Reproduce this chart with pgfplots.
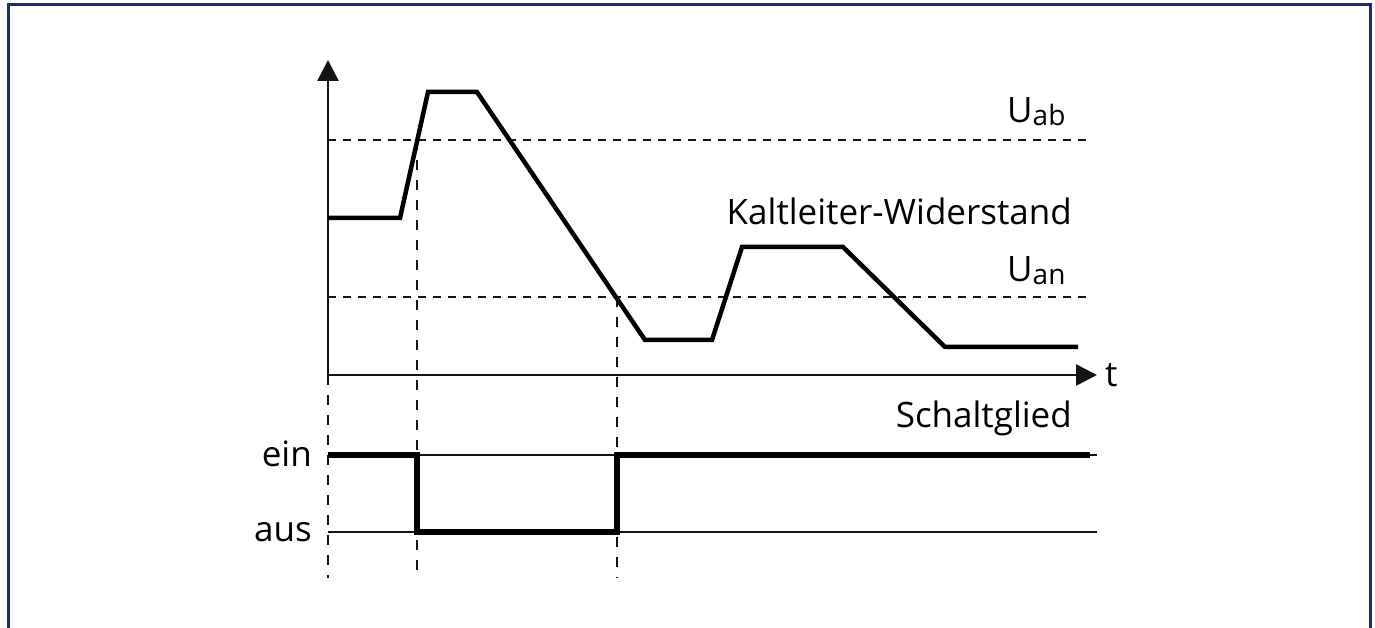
\documentclass[border=0pt]{standalone}
\usepackage{pgfplots}
\pgfplotsset{compat=1.18}
\usepackage{fontspec}
\setmainfont{Open Sans}
\usetikzlibrary{arrows.meta}
\definecolor{frameblue}{RGB}{22,46,122}
\definecolor{ink}{RGB}{20,20,20}
\begin{document}
\begin{tikzpicture}
\begin{axis}[width=1375bp,height=628bp,scale only axis,
  xmin=0,xmax=1375,ymin=0,ymax=628,axis lines=none,clip=false,no markers]
\coordinate (BL) at (axis cs:0,0);
\coordinate (TR) at (axis cs:1375,628);
% frame
\draw[frameblue,line width=3bp] (axis cs:8,0) -- (axis cs:8,623) -- (axis cs:1370,623) -- (axis cs:1370,0);
% dashed reference lines
\addplot[ink,line width=1.8bp,dash pattern=on 8bp off 7bp] coordinates {(328,488) (1088,488)};
\addplot[ink,line width=1.8bp,dash pattern=on 8bp off 7bp] coordinates {(328,331) (1088,331)};
\addplot[ink,line width=1.8bp,dash pattern=on 10bp off 10bp] coordinates {(328,253) (328,50)};
\addplot[ink,line width=1.8bp,dash pattern=on 10bp off 10bp] coordinates {(417,488) (417,50)};
\addplot[ink,line width=1.8bp,dash pattern=on 10bp off 10bp] coordinates {(617,331) (617,50)};
% axes
\draw[ink,line width=2.5bp,-{Triangle[width=21bp,length=21bp]}] (axis cs:328,253) -- (axis cs:328,568);
\draw[ink,line width=2.5bp,-{Triangle[width=21bp,length=21bp]}] (axis cs:328,253) -- (axis cs:1097,253);
% ein/aus thin lines
\addplot[ink,line width=2bp] coordinates {(328,173) (1097,173)};
\addplot[ink,line width=2bp] coordinates {(328,96) (1097,96)};
% resistance curve
\addplot[black,line width=4.5bp,line join=miter] coordinates {
 (328,410) (400,410) (428,536) (477,536) (645,288) (712,288)
 (742,381) (843,381) (945,281) (1078,281)};
% switching element
\addplot[black,line width=5.5bp,line join=miter] coordinates {
 (328,173) (417,173) (417,96) (617,96) (617,173) (1090,173)};
% labels
\tikzset{lbl/.style={inner sep=0pt,font=\fontsize{35bp}{41bp}\selectfont}}
\node[lbl,anchor=base west] at (axis cs:1007,505) {U\raisebox{-3bp}{\fontsize{28bp}{31bp}\selectfont ab}};
\node[lbl,anchor=base west] at (axis cs:1007,346) {U\raisebox{-3bp}{\fontsize{28bp}{31bp}\selectfont an}};
\node[lbl,anchor=base east] at (axis cs:1072,403) {Kaltleiter-Widerstand};
\node[lbl,anchor=base west] at (axis cs:1105,241) {t};
\node[lbl,anchor=base east] at (axis cs:1072,200) {Schaltglied};
\node[lbl,anchor=base east] at (axis cs:312,161) {ein};
\node[lbl,anchor=base east] at (axis cs:312,86) {aus};
\end{axis}
\pgfresetboundingbox
\path (BL) rectangle (TR);
\end{tikzpicture}
\end{document}
